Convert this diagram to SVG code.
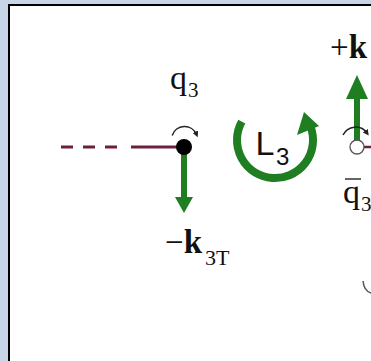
<svg xmlns="http://www.w3.org/2000/svg" width="371" height="361" viewBox="0 0 371 361">
<defs>
<style>
.serif{font-family:"Liberation Serif","Times New Roman",serif;fill:#111}
.sans{font-family:"Liberation Sans",Arial,sans-serif;fill:#111}
.green{fill:#1f7d22}
.rot{fill:none;stroke:#222;stroke-width:1.5}
</style>
<marker id="ah" viewBox="0 0 10 10" refX="5" refY="5" markerWidth="6" markerHeight="6" orient="auto" markerUnits="userSpaceOnUse">
<path d="M0,0 L10,5 L0,10 Z" fill="#222"/>
</marker>
</defs>
<rect x="0" y="0" width="371" height="361" fill="#c8d5e6"/>
<rect x="9" y="5" width="380" height="380" fill="#fff" stroke="#000" stroke-width="2"/>
<g id="connectors">
<line x1="61" y1="147" x2="125" y2="147" stroke="#6e1f3f" stroke-width="3" stroke-dasharray="12 10"/>
<line x1="131" y1="147" x2="184" y2="147" stroke="#6e1f3f" stroke-width="3"/>
<line x1="357" y1="147" x2="371" y2="147" stroke="#6e1f3f" stroke-width="2.5"/>
</g>
<g id="node-q3">
<rect x="181" y="150" width="6" height="48" class="green"/>
<polygon points="175,197 193,197 184,213" class="green"/>
<circle cx="184" cy="147" r="8" fill="#000"/>
<path d="M 172.2 135.5 A 13 13 0 0 1 196.5 134.5" class="rot" marker-end="url(#ah)"/>
<text x="170" y="89" class="serif" font-size="34">q</text>
<text x="188" y="97" class="serif" font-size="21">3</text>
</g>
<g id="node-L3">
<path d="M 241.8 121.6 A 38 38 0 1 0 310.7 127" fill="none" stroke="#1f7d22" stroke-width="8"/>
<polygon points="297,135 319,126 304,112" class="green"/>
<text x="255.5" y="155" class="sans" font-size="34">L</text>
<text x="276" y="165" class="sans" font-size="24">3</text>
</g>
<g id="node-qbar3">
<rect x="354" y="97" width="6" height="45" class="green"/>
<polygon points="346,99 368,99 357,75" class="green"/>
<path d="M 343 135 A 14 14 0 0 1 367 133" class="rot" marker-end="url(#ah)"/>
<circle cx="357" cy="147" r="7" fill="#fff" stroke="#555" stroke-width="1.3"/>
<line x1="345" y1="179" x2="361" y2="179" stroke="#111" stroke-width="1.3"/>
<text x="343" y="203" class="serif" font-size="34">q</text>
<text x="361" y="211" class="serif" font-size="21">3</text>
</g>
<g id="label-plus-k">
<text x="330" y="58" class="serif" font-size="33">+<tspan font-weight="bold">k</tspan></text>
</g>
<g id="label-minus-k3T">
<text x="165" y="253" class="serif" font-size="33">−<tspan font-weight="bold">k</tspan></text>
<text x="205" y="265" class="serif" font-size="22">3T</text>
</g>
<path d="M 363 281 Q 364 291 371 293" fill="none" stroke="#555" stroke-width="1.5"/>
</svg>
